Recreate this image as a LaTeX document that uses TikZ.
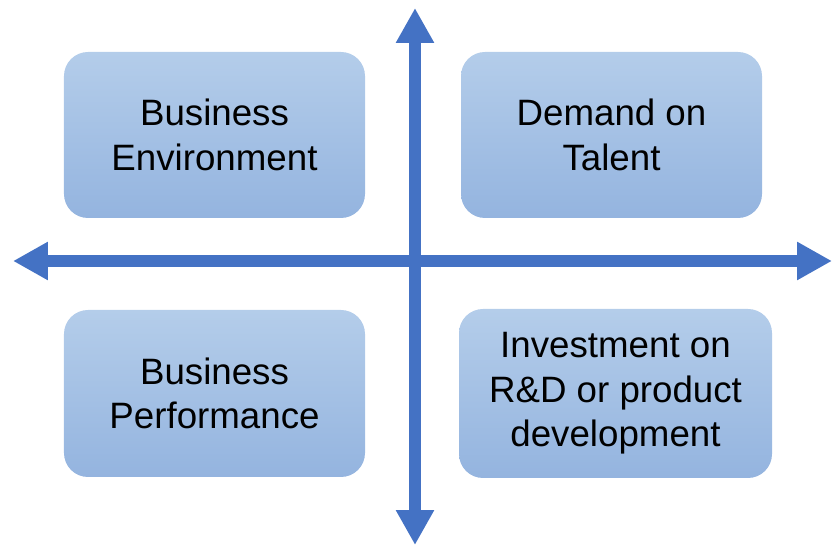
\documentclass[tikz,border=0pt]{standalone}
\usepackage{fontspec}
\setmainfont{Liberation Sans}
\usetikzlibrary{positioning, calc, arrows.meta}
\definecolor{BoxTop}{HTML}{B4CDEA}
\definecolor{BoxBot}{HTML}{94B4DF}
\definecolor{AxisBlue}{HTML}{4472C4}

\begin{document}
\begin{tikzpicture}[x=1pt, y=1pt,
  quad/.style = {rounded corners=24pt, top color=BoxTop, bottom color=BoxBot, draw=none,
                 align=center, inner sep=0pt, font=\fontsize{36.7}{44.5}\selectfont},
  axis/.style = {draw=AxisBlue, line width=12pt, {Triangle[length=35pt, width=36pt]}-{Triangle[length=35pt, width=36pt]}} ]

\useasboundingbox (-415,-283) rectangle (417,262);

% ends of the axes
\coordinate (top)    at (0,254);
\coordinate (bottom) at (0,-283);
\coordinate (left)   at (-402,1);
\coordinate (right)  at (417,1);

% Business Environment
\node[quad, minimum width=301pt, minimum height=166pt] (env) at (-200.5,127) {Business\\Environment};

% Demand on Talent
\node[quad, minimum width=301pt, minimum height=166pt] (talent) at (196.5,127) {Demand on\\Talent};

% Business Performance
\node[quad, minimum width=301pt, minimum height=167pt] (perf) at (-200.5,-131.5) {Business\\Performance};

% Investment on R&D
\node[quad, minimum width=313pt, minimum height=169pt] (invest) at (200.5,-131.5) {Investment on\\R\&D or product\\development};

%--- vertical axis ---
\draw[axis] (bottom) -- (top);

%--- horizontal axis ---
\draw[axis] (left) -- (right);

\end{tikzpicture}
\end{document}
